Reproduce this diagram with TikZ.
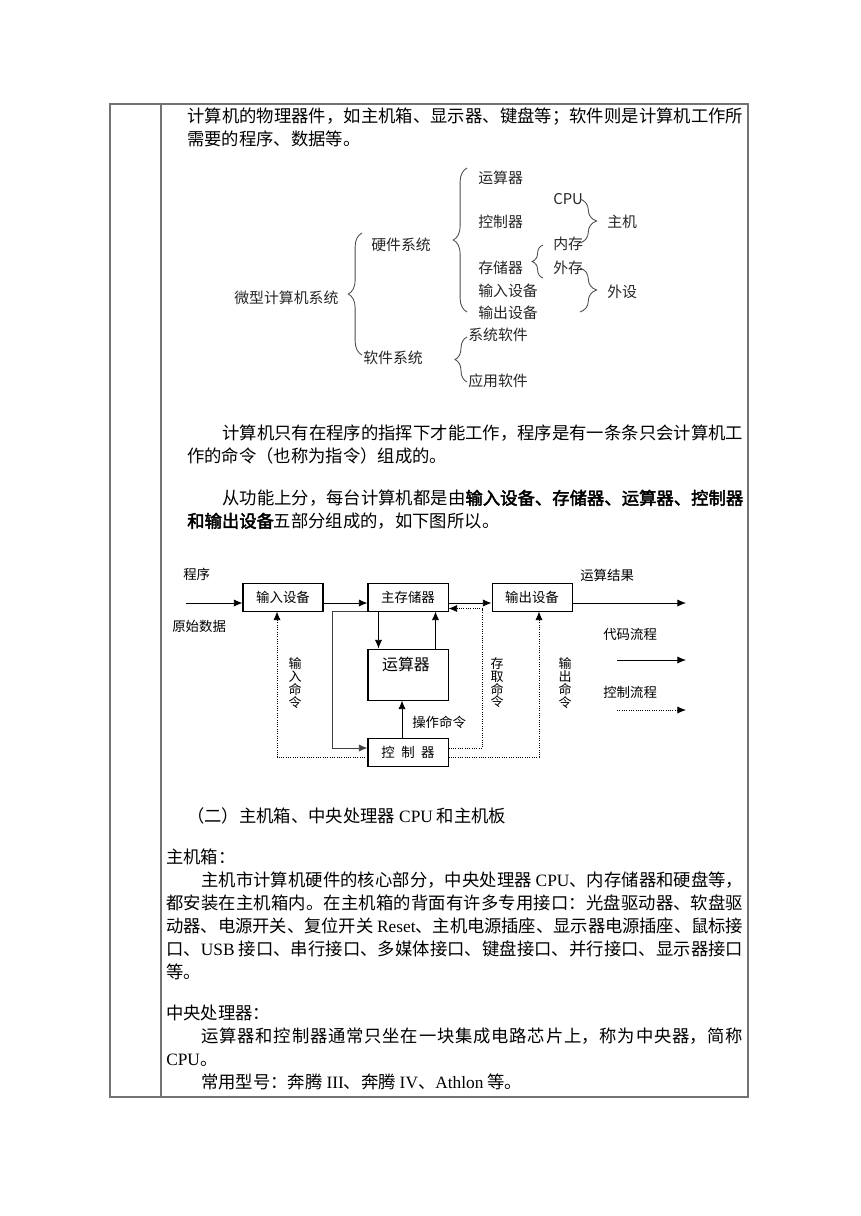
\documentclass[tikz,border=0pt]{standalone}
\usepackage{fontspec}
\setmainfont[AutoFakeBold=2.5]{Noto Sans CJK SC}
\newfontfamily\tm{Liberation Serif}
\usetikzlibrary{arrows.meta,calc,positioning,decorations.pathreplacing}
\XeTeXlinebreaklocale "zh"
\XeTeXlinebreakskip=0pt plus 3pt minus 0.6pt
\newdimen\pxu \pxu=0.6922pt

\tikzset{
  body/.style={anchor=west,inner sep=0pt,font=\fontsize{12}{14}\selectfont,text height=10pt,text depth=1pt},
  jline/.style={body,text width=#1,align=justify,execute at begin node={\parfillskip=0pt\relax}},
  tree/.style={anchor=west,inner sep=0pt,font=\fontsize{10.3}{12}\selectfont,text=black!85},
  brc/.style={decorate,decoration={brace,amplitude=#1},draw=black!70,line width=0.6pt},
  blk/.style={draw,line width=0.7pt,minimum width=80\pxu,minimum height=28\pxu,inner sep=0pt,font=\fontsize{9.3}{11}\selectfont},
  lbl/.style={anchor=west,inner sep=0pt,font=\fontsize{9.3}{11}\selectfont},
  vlbl/.style={inner sep=0pt,align=center,font=\fontsize{9}{8.8}\selectfont},
  arr/.style={-{Latex[length=6pt,width=5pt]},line width=0.6pt},
  ctrl/.style={arr,densely dotted},
  tbl/.style={draw=black!55,line width=1pt}
}

\begin{document}
\begin{tikzpicture}[x=1\pxu,y=-1\pxu]
\useasboundingbox (0,0) rectangle (860,1216);

% table frame
\draw[tbl] (110,104) rectangle (748,1097);
\draw[tbl] (161,104) -- (161,1097);

\node[jline=556\pxu] (t1) at (187,116) {计算机的物理器件，如主机箱、显示器、键盘等；软件则是计算机工作所};
\node[body] (t2) at (187,139) {需要的程序、数据等。};

% tree of the system
\node[tree] (root) at (234,298) {微型计算机系统};
\node[tree] (hw) at (371,245) {硬件系统};
\node[tree] (sw) at (363,358) {软件系统};
\node[tree] (ys) at (478,178) {运算器};
\node[tree] (kz) at (478,222) {控制器};
\node[tree] (cc) at (478,268) {存储器};
\node[tree] (sr) at (478,291) {输入设备};
\node[tree] (sc) at (478,313) {输出设备};
\node[tree] (cpu) at (553,199) {CPU};
\node[tree] (nc) at (553,244) {内存};
\node[tree] (wc) at (553,268) {外存};
\node[tree] (zj) at (607,222) {主机};
\node[tree] (ws) at (607,292) {外设};
\node[tree] (xt) at (468,335) {系统软件};
\node[tree] (yy) at (468,381) {应用软件};

\coordinate (b1t) at (362,233); \coordinate (b1b) at (362,355);
\coordinate (b2t) at (467,168); \coordinate (b2b) at (467,312);
\coordinate (b3t) at (543,245); \coordinate (b3b) at (543,278);
\coordinate (b4t) at (580,199); \coordinate (b4b) at (580,243);
\coordinate (b5t) at (580,268); \coordinate (b5b) at (580,312);
\coordinate (b6t) at (467,337); \coordinate (b6b) at (467,382);
\draw[brc=9.5pt] (b1b) -- (b1t);
\draw[brc=9.5pt] (b2b) -- (b2t);
\draw[brc=7.5pt] (b3b) -- (b3t);
\draw[brc=11.5pt] (b4t) -- (b4b);
\draw[brc=11.5pt] (b5t) -- (b5b);
\draw[brc=8.3pt] (b6b) -- (b6t);

\node[jline=521\pxu] (t3) at (222,433) {计算机只有在程序的指挥下才能工作，程序是有一条条只会计算机工};
\node[body] (t4) at (187,456) {作的命令（也称为指令）组成的。};
\node[jline=521\pxu] (t5) at (222,498) {从功能上分，每台计算机都是由\textbf{输入设备、存储器、运算器、控制器}};
\node[body] (t6) at (187,521) {\textbf{和输出设备}五部分组成的，如下图所以。};

% block diagram
\node[blk] (inp) at (283,597) {输入设备};
\node[blk] (mem) at (408,597) {主存储器};
\node[blk] (outp) at (532,597) {输出设备};
\node[blk,minimum height=51\pxu] (alu) at (408,674.5) {};
\node[inner sep=0pt,anchor=north,font=\fontsize{11}{13}\selectfont] (alut) at ($(alu.north)+(-2,8)$) {运算器};
\node[blk] (ctl) at (408,752) {控\hspace{4.5pt}制\hspace{4.5pt}器};

\node[lbl] (prog) at (183,574) {程序};
\node[lbl] (data) at (172,626) {原始数据};
\node[lbl] (resl) at (580,575) {运算结果};
\node[lbl] (op) at (412,722) {操作命令};
\node[lbl] (lg1) at (603,634) {代码流程};
\node[lbl] (lg2) at (603,692) {控制流程};
\node[vlbl] (inc) at (295,683) {输\\入\\命\\令};
\node[vlbl] (acc) at (497,683) {存\\取\\命\\令};
\node[vlbl] (outc) at (565,683) {输\\出\\命\\令};

\coordinate (src) at (186,603);
\coordinate (res) at (686,603);
\coordinate (l1a) at (617,660); \coordinate (l1b) at (686,660);
\coordinate (l2a) at (617,710); \coordinate (l2b) at (686,710);

\draw[arr] (src) -- ($(inp.west)+(0,6)$);
\draw[arr] ($(inp.east)+(0,6)$) -- ($(mem.west)+(0,6)$);
\draw[arr] ($(mem.east)+(0,6)$) -- ($(outp.west)+(0,6)$);
\draw[arr] ($(outp.east)+(0,6)$) -- (res);
\draw[arr] ($(mem.south west)+(11,0)$) -- ($(alu.north west)+(11,0)$);
\draw[arr] ($(alu.north east)+(-13,0)$) -- ($(mem.south east)+(-13,0)$);
\draw[arr] ($(ctl.north)+(-6,0)$) -- ($(alu.south)+(-6,0)$);
\draw[arr,draw=black!75] (mem.south west) -- ++(-35,0) |- ($(ctl.west)+(0,-4)$);
\draw[ctrl] ($(ctl.east)+(0,-4)$) -- ++(34,0) |- ($(mem.south east)+(0,-3)$);
\draw[ctrl] ($(ctl.west)+(0,5)$) -| ($(inp.south)+(-6,0)$);
\draw[ctrl] ($(ctl.east)+(0,5)$) -| ($(outp.south)+(7,0)$);
\draw[arr] (l1a) -- (l1b);
\draw[ctrl] (l2a) -- (l2b);

\node[body] (t7) at (187,816) {（二）主机箱、中央处理器 {\tm CPU} 和主机板};
\node[body] (t8) at (166,857) {主机箱：};
\node[jline=542\pxu] (t9) at (201,880) {主机市计算机硬件的核心部分，中央处理器 {\tm CPU}、内存储器和硬盘等，};
\node[jline=577\pxu] (t10) at (166,903) {都安装在主机箱内。在主机箱的背面有许多专用接口：光盘驱动器、软盘驱};
\node[jline=577\pxu] (t11) at (166,926) {动器、电源开关、复位开关 {\tm Reset}、主机电源插座、显示器电源插座、鼠标接};
\node[jline=577\pxu] (t12) at (166,949) {口、{\tm USB} 接口、串行接口、多媒体接口、键盘接口、并行接口、显示器接口};
\node[body] (t13) at (166,972) {等。};
\node[body] (t14) at (166,1013) {中央处理器：};
\node[jline=542\pxu] (t15) at (201,1036) {运算器和控制器通常只坐在一块集成电路芯片上，称为中央器，简称};
\node[body] (t16) at (166,1059) {{\tm CPU}。};
\node[body] (t17) at (201,1082) {常用型号：奔腾 {\tm III}、奔腾 {\tm IV}、{\tm Athlon} 等。};
\end{tikzpicture}
\end{document}
